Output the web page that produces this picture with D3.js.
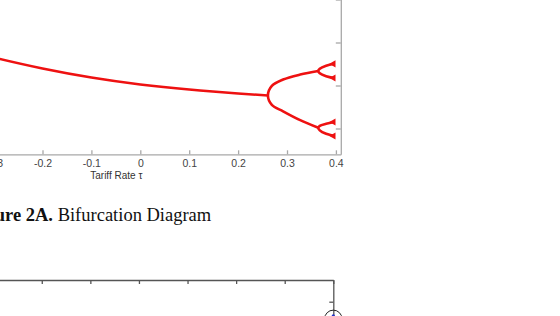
<!DOCTYPE html>
<html>
<head>
<meta charset="UTF-8">
<title>Bifurcation Diagram</title>
<script src="https://d3js.org/d3.v7.min.js"></script>
<style>
  body { margin: 0; background: #fff; }
  svg { display: block; overflow: hidden; }
  .tick text { font-family: "Liberation Sans", Arial, sans-serif; fill: #444; }
</style>
</head>
<body>
<svg width="560" height="316"></svg>
<script>
// Figure 2A: tariff rate axis and value ticks
const tauTicks = [-0.5, -0.4, -0.3, -0.2, -0.1, 0, 0.1, 0.2, 0.3, 0.4];
const valueTicks = [0.5, 1.0, 1.5, 2.0];

// period-1 branch
const branchTau   = [-0.5, -0.4, -0.3, -0.2, -0.1, 0, 0.1, 0.2, 0.261];
const branchValue = [1.634, 1.471, 1.326, 1.198, 1.093, 1.012, 0.953, 0.907, 0.884];

// period-2 loop (upper end -> vertex -> lower end)
const period2Tau   = [0.364, 0.327, 0.292, 0.269, 0.261, 0.269, 0.292, 0.327, 0.364];
const period2Value = [1.169, 1.127, 1.069, 0.995, 0.884, 0.775, 0.700, 0.597, 0.508];

// period-4 forks
const fork4Tau        = [0.397, 0.380, 0.367, 0.364, 0.367, 0.380, 0.397];
const fork4UpperValue = [1.252, 1.229, 1.194, 1.169, 1.142, 1.107, 1.087];
const fork4LowerValue = [0.576, 0.555, 0.531, 0.508, 0.479, 0.438, 0.413];

// Figure 2B (only its top-right corner shows)
const fig2bTicks = [-0.5, -0.4, -0.3, -0.2, -0.1, 0, 0.1, 0.2, 0.3, 0.4];
const fig2bValueTicks = [0.5, 1.0];
const fig2bTau = [0.4];
const fig2bValue = [0.921];

const svg = d3.select("svg");
const red = "#ee1111";

// ---- Figure 2A ----
const x = d3.scaleLinear().domain([-0.5, 0.41]).range([-104.2, 340.8]);
const y = d3.scaleLinear().domain([0.2, 2.2]).range([154.3, -17.7]);

const g = svg.append("g");

const xAxis = g.append("g")
    .attr("transform", `translate(0,${y(0.2)})`)
    .call(d3.axisBottom(x).tickValues(tauTicks).tickSize(-4).tickSizeOuter(0).tickPadding(5)
        .tickFormat(d => d === 0 ? "0" : d3.format(".1f")(d).replace("−", "-")));
xAxis.selectAll("text").style("font-size", "10.5px");

g.append("g")
    .attr("transform", `translate(${x(0.41)},0)`)
    .call(d3.axisLeft(y).tickValues(valueTicks).tickSize(5).tickSizeOuter(0).tickFormat(""));

g.selectAll(".domain, .tick line").attr("stroke", "#a8a8a8").attr("stroke-width", 1.3);

g.append("text")
    .attr("x", (x.range()[0] + x.range()[1]) / 2 - 2)
    .attr("y", 179)
    .attr("text-anchor", "middle")
    .style("font-family", "Liberation Sans, Arial, sans-serif")
    .style("font-size", "10px")
    .attr("fill", "#333")
    .text("Tariff Rate τ");

const mainLine = d3.line().x(d => x(d[0])).y(d => y(d[1])).curve(d3.curveNatural);
const loopLine = d3.line().x(d => x(d[0])).y(d => y(d[1])).curve(d3.curveCatmullRom.alpha(0.5));

g.append("path")
    .attr("d", mainLine(d3.zip(branchTau, branchValue)))
    .attr("fill", "none")
    .attr("stroke", red)
    .attr("stroke-width", 2.6);

const loops = [
    d3.zip(period2Tau, period2Value),
    d3.zip(fork4Tau, fork4UpperValue),
    d3.zip(fork4Tau, fork4LowerValue)
];

g.selectAll(".branch")
    .data(loops)
    .enter()
    .append("path")
    .attr("class", "branch")
    .attr("d", loopLine)
    .attr("fill", "none")
    .attr("stroke", red)
    .attr("stroke-width", 2.6)
    .attr("stroke-linejoin", "round");

// blobs at the branch tips
const tips = [
    [fork4Tau[0], fork4UpperValue[0]], [fork4Tau[6], fork4UpperValue[6]],
    [fork4Tau[0], fork4LowerValue[0]], [fork4Tau[6], fork4LowerValue[6]]
];
g.selectAll(".tip")
    .data(tips)
    .enter()
    .append("path")
    .attr("class", "tip")
    .attr("d", d3.symbol(d3.symbolTriangle, 22))
    .attr("transform", d => `translate(${x(d[0]) - 1},${y(d[1])}) rotate(-90)`)
    .attr("fill", red);

// caption
const caption = svg.append("text")
    .attr("y", 221)
    .style("font-family", "Liberation Serif, Times New Roman, serif")
    .style("font-size", "18.5px")
    .attr("fill", "#111");
const bold = caption.append("tspan").style("font-weight", "bold").text("Figure 2A.");
caption.append("tspan").text(" Bifurcation Diagram");
const boldW = bold.node().getComputedTextLength();
caption.attr("x", 53 - boldW);

// ---- Figure 2B ----
const x2 = d3.scaleLinear().domain([-0.5, 0.4]).range([-104, 333.3]);
const y2 = d3.scaleLinear().domain([0, 1.1]).range([518.7, 280]);

const g2 = svg.append("g");
g2.append("g")
    .attr("transform", `translate(0,${y2(1.1)})`)
    .call(d3.axisTop(x2).tickValues(fig2bTicks).tickSize(-4).tickSizeOuter(0).tickFormat(""));
g2.append("g")
    .attr("transform", `translate(${x2(0.4)},0)`)
    .call(d3.axisLeft(y2).tickValues(fig2bValueTicks).tickSize(4).tickSizeOuter(0).tickFormat(""));
g2.selectAll(".domain, .tick line").attr("stroke", "#555").attr("stroke-width", 1.3);

const pts = d3.zip(fig2bTau, fig2bValue);
g2.selectAll(".ring")
    .data(pts)
    .enter()
    .append("circle")
    .attr("class", "ring")
    .attr("cx", d => x2(d[0]))
    .attr("cy", d => y2(d[1]))
    .attr("r", 8.7)
    .attr("fill", "none")
    .attr("stroke", "#222")
    .attr("stroke-width", 1);
g2.selectAll(".dot")
    .data(pts)
    .enter()
    .append("circle")
    .attr("class", "dot")
    .attr("cx", d => x2(d[0]))
    .attr("cy", d => y2(d[1]) - 3)
    .attr("r", 1.6)
    .attr("fill", "#2233cc");
</script>
</body>
</html>
